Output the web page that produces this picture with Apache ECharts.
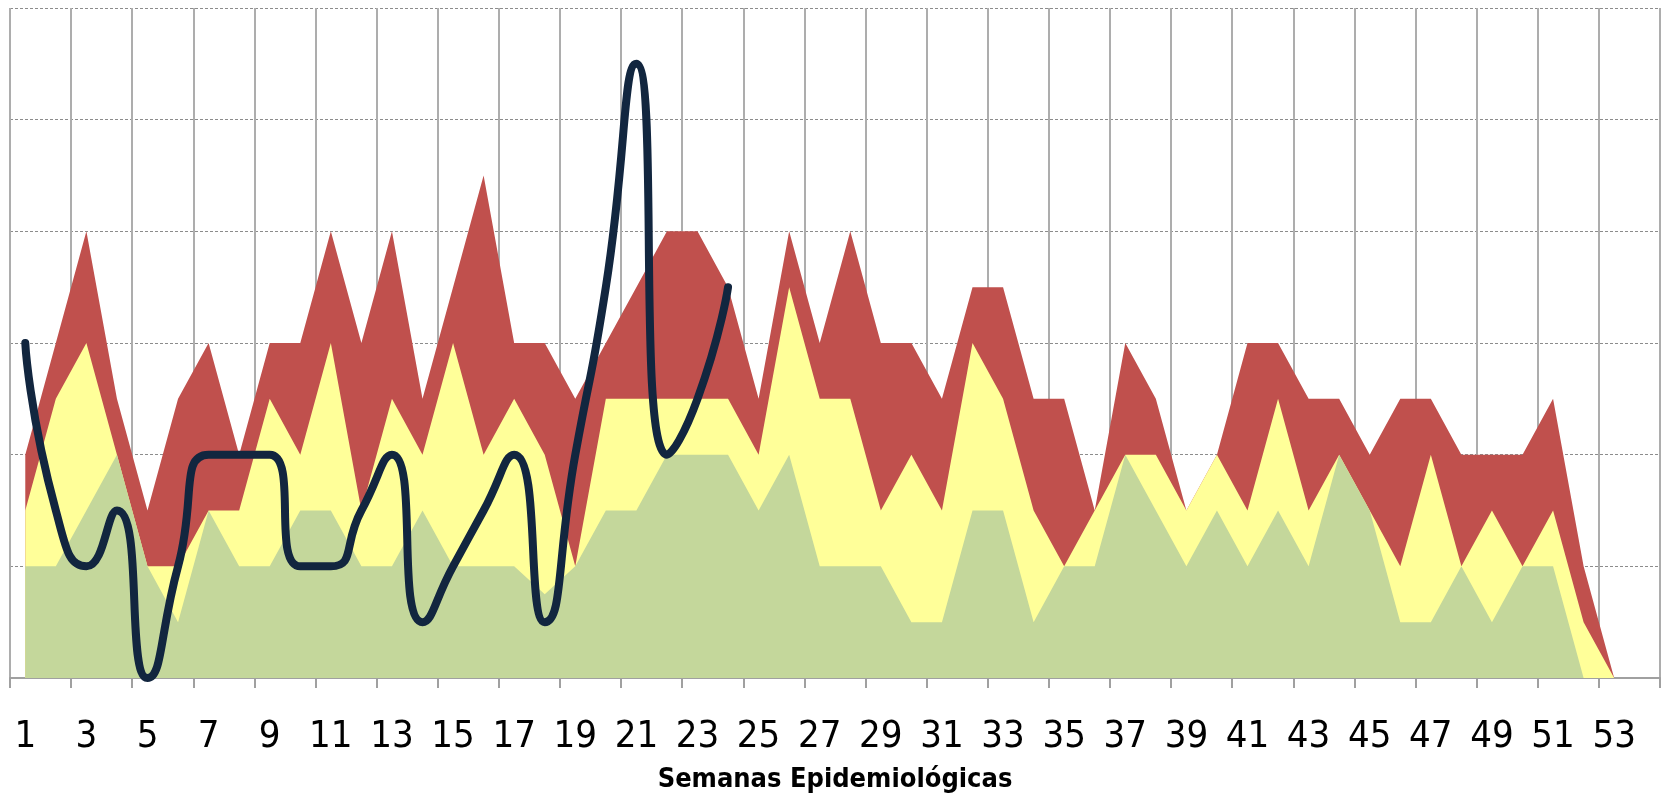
<!DOCTYPE html>
<html>
<head>
<meta charset="utf-8">
<script src="https://cdn.jsdelivr.net/npm/echarts@6/dist/echarts.min.js"></script>
<style>
html,body{margin:0;padding:0;background:#fff;}
#chart{width:1667px;height:798px;}
</style>
</head>
<body>
<div id="chart"></div>
<script>
// Semanas epidemiológicas (54 bandas, la última vacía)
const weeks = Array.from({length: 54}, (_, i) => String(i + 1));

// Zona de brote (límite superior)
const upper = [4,6,8,5,3,5,6,4,6,6,8,6,8,5,7,9,6,6,5,6,7,8,8,7,5,8,6,8,6,6,5,7,7,5,5,3,6,5,3,4,6,6,5,5,4,5,5,4,4,4,5,2,0,null];
// Zona de alarma (mediana)
const median = [3,5,6,4,2,2,3,3,5,4,6,3,5,4,6,4,5,4,2,5,5,5,5,5,4,7,5,5,3,4,3,6,5,3,2,3,4,4,3,4,3,5,3,4,3,2,4,2,3,2,3,1,0,null];
// Zona de seguridad (límite inferior)
const lower = [2,2,3,4,2,1,3,2,2,3,3,2,2,3,2,2,2,1.5,2,3,3,4,4,4,3,4,2,2,2,1,1,3,3,1,2,2,4,3,2,3,2,3,2,4,3,1,1,2,1,2,2,0,0,null];
// Casos del año en curso
const cases = [6,3,2,3,0,2,4,4,4,2,2,3,4,1,2,3,4,1,4,7,11,4,5,7];

const chart = echarts.init(document.getElementById('chart'));
const narrow = "'Liberation Sans Narrow','DejaVu Sans Condensed','DejaVu Sans',sans-serif";

function area(name, data, color, z) {
  return {
    name, type: 'line', data, z,
    symbol: 'none', smooth: false,
    lineStyle: {width: 0, color},
    itemStyle: {color},
    areaStyle: {color, opacity: 1},
    silent: true
  };
}

chart.setOption({
  animation: false,
  grid: {left: 10, right: 7, top: 8, bottom: 116, containLabel: false},
  xAxis: {
    type: 'category',
    data: weeks,
    boundaryGap: true,
    axisLine: {show: true, lineStyle: {color: '#A0A0A0', width: 2}},
    axisTick: {show: true, interval: 1, length: 10, lineStyle: {color: '#A0A0A0', width: 2}},
    axisLabel: {interval: 1, color: '#000', fontFamily: narrow, fontSize: 38, margin: 40},
    splitLine: {show: true, interval: 1, lineStyle: {color: '#ADADAD', width: 2}},
    name: 'Semanas Epidemiológicas',
    nameLocation: 'middle',
    nameGap: 88,
    nameTextStyle: {color: '#000', fontFamily: narrow, fontWeight: 'bold', fontSize: 27}
  },
  yAxis: {
    type: 'value',
    min: 0, max: 12, interval: 2,
    axisLine: {show: false},
    axisTick: {show: false},
    axisLabel: {show: false},
    splitLine: {show: true, lineStyle: {color: '#8C8C8C', width: 1, type: [3, 2]}}
  },
  series: [
    area('Brote', upper, '#C0504D', 1),
    area('Alarma', median, '#FFFF99', 2),
    area('Seguridad', lower, '#C4D79B', 3),
    {
      name: 'Casos', type: 'line', data: cases, z: 5,
      symbol: 'none', smooth: 0.6,
      lineStyle: {color: '#12263F', width: 8, cap: 'round', join: 'round'},
      itemStyle: {color: '#12263F'}
    }
  ]
});
</script>
</body>
</html>
